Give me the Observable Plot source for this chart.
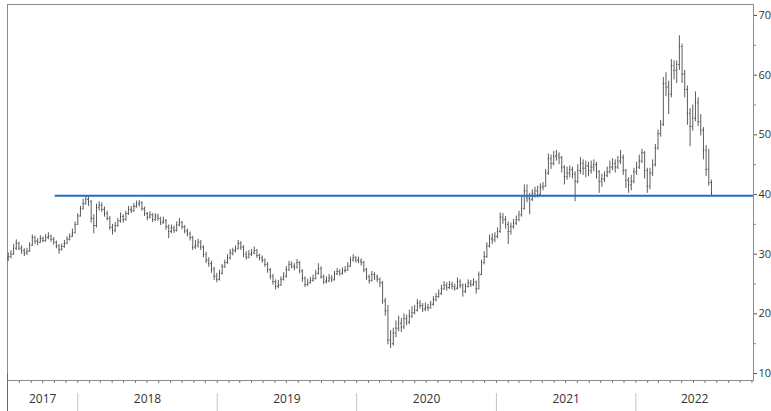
<!DOCTYPE html>
<html><head><meta charset="utf-8">
<script src="https://cdn.jsdelivr.net/npm/d3@7"></script>
<script src="https://cdn.jsdelivr.net/npm/@observablehq/plot@0.6"></script>
<style>body{margin:0;background:#fff}#chart svg{display:block}</style>
</head><body><div id="chart"></div>
<script>
// Weekly OHLC, first week starting 2017-07-03
const firstWeek = "2017-07-03";
const opens = [
29.2,29.6,30.0,31.0,31.8,31.0,30.6,30.2,30.5,31.5,
32.8,32.2,32.0,32.6,32.3,32.8,33.0,32.5,32.0,31.4,
30.8,31.3,31.8,32.5,33.0,33.6,35.0,36.4,37.6,38.5,
39.2,38.8,36.0,34.8,37.8,38.2,37.5,36.8,36.0,34.5,
34.0,34.8,35.6,36.3,35.8,36.8,37.5,37.3,38.0,38.4,
38.6,37.6,36.8,36.2,36.6,35.8,36.4,36.0,35.3,35.6,
34.6,33.8,34.4,34.0,34.9,35.3,34.6,33.9,33.4,32.8,
31.2,31.5,32.0,31.2,30.0,29.0,28.4,27.5,26.3,25.8,
26.8,27.9,28.6,29.4,30.2,30.6,30.9,31.8,31.2,30.0,
29.5,30.0,30.2,30.6,29.8,29.4,29.0,28.3,27.4,26.3,
25.4,24.6,24.8,25.8,26.3,27.4,28.3,28.0,27.8,28.6,
27.2,25.9,24.9,25.2,25.6,25.9,26.8,27.6,26.2,25.4,
25.6,26.0,25.7,26.7,27.1,26.8,27.2,27.3,28.0,29.0,
29.4,29.0,28.9,28.6,27.4,26.2,25.6,26.6,26.2,25.8,
25.2,22.2,20.5,15.6,15.0,16.8,17.6,18.4,17.8,19.2,
18.6,19.6,20.2,20.6,21.8,21.4,20.8,21.1,21.0,21.6,
22.4,22.9,23.4,24.2,24.8,24.4,24.9,24.6,24.3,25.4,
24.8,23.8,24.6,25.2,24.9,25.3,24.2,26.6,28.6,29.6,
31.4,32.6,32.4,33.0,33.8,36.2,35.8,35.0,33.8,34.6,
35.2,35.8,36.6,37.6,40.6,39.4,39.2,40.2,40.6,40.0,
41.2,41.4,43.6,46.0,45.2,46.4,46.6,46.2,44.6,43.0,
43.6,44.2,43.4,42.2,44.0,45.2,44.4,44.8,44.0,44.6,
45.0,43.8,42.2,42.6,43.2,43.8,44.6,45.2,44.6,45.6,
46.2,44.0,42.4,41.6,42.2,43.8,44.6,45.6,47.0,44.0,
41.4,43.6,45.0,47.8,50.2,51.8,58.6,58.0,56.8,61.6,
60.8,61.8,64.8,60.2,57.6,53.6,51.4,52.8,55.4,52.2,
50.8,47.4,44.2,42.0];
const highs = [
30.2,30.6,31.6,32.4,32.0,31.4,30.9,31.0,31.9,33.2,
33.0,32.6,33.1,32.9,33.3,33.6,33.2,32.8,32.2,31.6,
31.7,32.3,32.9,33.4,34.2,35.4,36.8,38.0,39.2,39.8,
39.6,39.0,36.6,38.4,38.8,38.6,37.9,37.2,36.3,35.0,
35.3,36.0,36.9,36.6,37.2,38.0,38.0,38.5,38.9,39.0,
38.8,37.9,37.0,37.1,36.8,36.8,36.7,36.2,36.2,35.8,
34.9,34.9,34.7,35.4,36.0,35.5,34.8,34.2,33.7,33.0,
32.3,32.5,32.3,31.4,30.3,29.4,28.8,27.8,26.8,27.3,
28.3,29.0,29.9,30.8,31.0,31.4,32.3,32.1,31.4,30.4,
30.6,30.8,31.2,30.8,30.0,29.7,29.2,28.6,27.6,26.6,
25.7,25.6,26.2,26.9,27.9,28.8,28.7,28.4,29.1,28.8,
27.4,26.2,25.8,26.1,26.5,27.3,28.4,27.9,26.5,26.2,
26.6,26.4,27.1,27.6,27.4,27.7,27.9,28.6,29.5,29.9,
29.6,29.5,29.2,28.8,27.6,26.5,27.1,26.9,26.5,26.0,
25.4,22.6,21.4,17.2,17.6,18.8,19.6,19.2,20.0,19.8,
20.6,21.2,21.4,22.4,22.2,21.7,21.8,21.6,22.1,22.9,
23.4,24.0,24.8,25.4,25.2,25.4,25.3,25.0,26.0,25.7,
25.0,25.0,25.7,25.6,25.9,25.5,27.0,29.0,30.4,31.9,
33.2,33.4,33.6,34.4,36.9,36.8,36.3,35.4,35.2,35.8,
36.4,37.2,39.8,41.6,41.6,40.2,40.8,41.2,41.4,41.8,
42.0,44.2,46.8,46.6,47.2,47.4,47.0,46.4,44.8,44.6,
44.8,44.6,43.8,45.0,46.2,45.8,45.6,45.4,45.6,45.8,
45.4,44.0,43.4,43.8,44.6,45.6,46.0,45.8,46.4,47.4,
46.6,44.2,42.8,43.2,44.4,45.4,46.6,47.6,47.2,44.4,
44.4,45.8,48.4,50.8,52.4,59.6,60.4,59.0,62.6,62.4,
62.4,66.6,65.2,60.8,58.2,54.4,55.0,57.2,56.2,53.4,
51.2,48.2,47.6,42.4];
const lows = [
28.8,29.2,29.8,30.6,30.6,30.0,29.6,29.8,30.3,31.3,
31.6,31.4,31.8,31.9,32.0,32.4,32.0,31.5,30.9,30.0,
30.5,31.0,31.6,32.2,32.8,33.4,34.8,36.2,37.4,38.2,
38.0,35.2,33.4,34.4,37.2,37.0,36.2,35.6,34.0,33.2,
33.6,34.5,35.2,35.2,35.5,36.5,36.8,37.0,37.7,37.9,
37.2,36.3,35.6,35.9,35.3,35.5,35.5,34.8,35.0,34.0,
32.6,33.4,33.5,33.7,34.6,34.1,33.4,32.9,32.2,30.6,
30.8,31.0,30.6,29.4,28.4,27.8,26.8,25.6,25.2,25.5,
26.5,27.6,28.3,29.0,29.7,30.2,30.7,30.6,29.4,29.0,
29.2,29.6,29.9,29.3,28.9,28.5,27.8,26.8,25.7,24.8,
24.0,24.2,24.6,25.5,26.0,27.1,27.5,27.2,27.5,26.7,
25.3,24.4,24.6,25.0,25.3,25.7,26.5,25.8,24.9,25.0,
25.2,25.2,25.5,26.4,26.3,26.5,26.8,27.1,27.8,28.7,
28.5,28.4,28.0,26.9,25.6,25.0,25.3,25.6,25.2,24.4,
21.6,19.6,14.8,14.2,14.6,16.0,17.0,16.9,17.4,18.0,
18.2,19.2,19.8,20.3,20.8,20.2,20.4,20.4,20.8,21.3,
22.0,22.6,23.1,23.9,23.8,24.1,24.0,23.8,24.0,24.2,
22.8,23.4,24.3,24.4,24.6,23.3,24.0,26.4,28.2,29.3,
31.0,31.6,31.9,32.6,33.5,35.0,34.2,31.6,33.2,34.2,
34.8,35.4,36.2,37.4,38.6,36.6,38.8,39.4,39.4,39.8,
40.6,41.2,43.2,44.2,44.8,45.6,45.0,43.6,41.6,42.4,
42.8,42.6,38.8,41.8,43.4,43.2,42.8,43.0,43.4,43.8,
42.6,40.2,41.2,42.0,42.8,43.4,44.0,43.6,44.2,45.0,
43.2,41.0,40.2,40.6,41.8,43.2,44.2,45.2,42.6,40.2,
40.8,43.0,44.6,47.4,49.6,51.4,56.4,53.4,56.2,59.2,
58.6,60.8,58.6,56.2,51.6,48.0,50.6,52.2,51.4,49.8,
45.8,43.0,41.4,39.8];
const closes = [
29.6,30.0,31.0,31.8,31.0,30.6,30.2,30.5,31.5,32.8,
32.2,32.0,32.6,32.3,32.8,33.0,32.5,32.0,31.4,30.8,
31.3,31.8,32.5,33.0,33.6,35.0,36.4,37.6,38.5,39.2,
38.8,36.0,34.8,37.8,38.2,37.5,36.8,36.0,34.5,34.0,
34.8,35.6,36.3,35.8,36.8,37.5,37.3,38.0,38.4,38.6,
37.6,36.8,36.2,36.6,35.8,36.4,36.0,35.3,35.6,34.6,
33.8,34.4,34.0,34.9,35.3,34.6,33.9,33.4,32.8,31.2,
31.5,32.0,31.2,30.0,29.0,28.4,27.5,26.3,25.8,26.8,
27.9,28.6,29.4,30.2,30.6,30.9,31.8,31.2,30.0,29.5,
30.0,30.2,30.6,29.8,29.4,29.0,28.3,27.4,26.3,25.4,
24.6,24.8,25.8,26.3,27.4,28.3,28.0,27.8,28.6,27.2,
25.9,24.9,25.2,25.6,25.9,26.8,27.6,26.2,25.4,25.6,
26.0,25.7,26.7,27.1,26.8,27.2,27.3,28.0,29.0,29.4,
29.0,28.9,28.6,27.4,26.2,25.6,26.6,26.2,25.8,25.2,
22.2,20.5,15.6,15.0,16.8,17.6,18.4,17.8,19.2,18.6,
19.6,20.2,20.6,21.8,21.4,20.8,21.1,21.0,21.6,22.4,
22.9,23.4,24.2,24.8,24.4,24.9,24.6,24.3,25.4,24.8,
23.8,24.6,25.2,24.9,25.3,24.2,26.6,28.6,29.6,31.4,
32.6,32.4,33.0,33.8,36.2,35.8,35.0,33.8,34.6,35.2,
35.8,36.6,37.6,40.6,39.4,39.2,40.2,40.6,40.0,41.2,
41.4,43.6,46.0,45.2,46.4,46.6,46.2,44.6,43.0,43.6,
44.2,43.4,42.2,44.0,45.2,44.4,44.8,44.0,44.6,45.0,
43.8,42.2,42.6,43.2,43.8,44.6,45.2,44.6,45.6,46.2,
44.0,42.4,41.6,42.2,43.8,44.6,45.6,47.0,44.0,41.4,
43.6,45.0,47.8,50.2,51.8,58.6,58.0,56.8,61.6,60.8,
61.8,64.8,60.2,57.6,53.6,51.4,52.8,55.4,52.2,50.8,
47.4,44.2,42.0,40.2];

const yearLabels = ["2017","2018","2019","2020","2021","2022"];
const yTicks = [10,20,30,40,50,60,70];
const yMinorTicks = [15,25,35,45,55,65];
const levelValue = 39.8;
const levelStart = "2017-11-03";
const domainStart = "2017-07-01";
const domainEnd = "2022-11-05";

const x0 = new Date(domainStart), x1 = new Date(domainEnd);
const start = new Date(firstWeek);
const bars = closes.map((c, i) => {
  const date = d3.utcDay.offset(start, 7 * i);
  return {date, open: opens[i], high: highs[i], low: lows[i], close: c};
});
const yearStarts = yearLabels.slice(1).map(y => new Date(Date.UTC(+y, 0, 1)));
const yearMids = yearLabels.map(y => {
  const a = Math.max(Date.UTC(+y, 0, 1), +x0);
  const b = Math.min(Date.UTC(+y + 1, 0, 1), +x1);
  return {label: y, date: new Date((a + b) / 2)};
});
const barColor = "#5c5c5c";
const tickColor = "#333";

const chart = Plot.plot({
  width: 771, height: 411,
  marginLeft: 7, marginRight: 18, marginTop: 4, marginBottom: 31,
  x: {type: "utc", domain: [x0, x1]},
  y: {domain: [8.83, 71.84]},
  style: {fontFamily: "'Open Sans', sans-serif", fontSize: "11px", color: "#333", background: "#fff", overflow: "visible"},
  marks: [
    Plot.frame({stroke: "#8c8c8c"}),
    Plot.ruleX([x0], {insetTop: 370, insetBottom: -31, stroke: "#666"}),
    Plot.axisX({ticks: d3.utcMonth.range(d3.utcMonth.ceil(x0), x1), tickSize: 3, tickFormat: () => "", stroke: "#777"}),
    Plot.axisY(yTicks, {anchor: "right", tickSize: 3, tickPadding: 2, fontSize: 11, fill: "#333", stroke: "#555"}),
    Plot.axisY(yMinorTicks, {anchor: "right", tickSize: 2, tickFormat: () => "", stroke: "#888"}),
    Plot.ruleX(yearStarts, {x: d => d, insetTop: 389, insetBottom: -31, stroke: "#c4c4c4"}),
    Plot.text(yearMids, {x: "date", text: "label", frameAnchor: "bottom", dy: 22, fontSize: 12, fill: "#333"}),
    Plot.ruleX(bars, {x: "date", y1: "low", y2: "high", stroke: barColor, strokeWidth: 1}),
    Plot.ruleY(bars, {y: "open", x1: d => d3.utcDay.offset(d.date, -2), x2: "date", stroke: tickColor}),
    Plot.ruleY(bars, {y: "close", x1: "date", x2: d => d3.utcDay.offset(d.date, 2), stroke: tickColor}),
    Plot.ruleY([levelValue], {x1: () => new Date(levelStart), x2: () => x1, stroke: "#1f6fc5", strokeWidth: 2})
  ]
});
document.getElementById("chart").appendChild(chart);
</script>
</body></html>
